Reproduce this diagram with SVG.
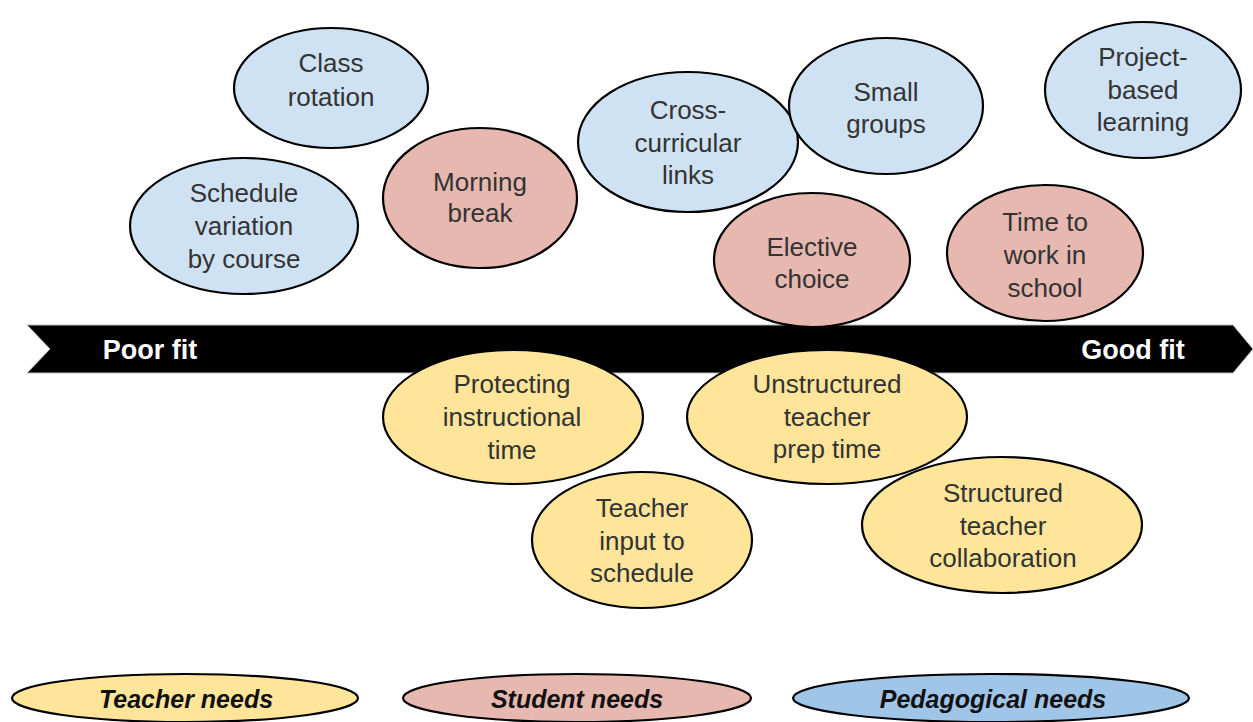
<svg xmlns="http://www.w3.org/2000/svg" width="1253" height="722" viewBox="0 0 1253 722">
<style>
  .n ellipse { stroke: #000; stroke-width: 2.2; }
  .blue ellipse { fill: #cfe2f3; }
  .red ellipse { fill: #e6b8af; }
  .yel ellipse { fill: #ffe599; }
  .leg ellipse { stroke: #000; stroke-width: 2.2; }
  text { font-family: "Liberation Sans", Arial, sans-serif; text-anchor: middle; }
  .t { font-size: 26px; fill: #333; }
  .lt { font-size: 25px; font-weight: bold; font-style: italic; fill: #111; }
  .bt { font-size: 27px; font-weight: bold; fill: #fff; }
</style>
<rect width="1253" height="722" fill="#fff"/>
<g id="axis">
  <polygon points="27,325 1233,325 1253,349 1233,373 27,373 50,349" fill="#000" stroke="#bbb" stroke-width="1"/>
  <text class="bt" x="150" y="359">Poor fit</text>
  <text class="bt" x="1133" y="359">Good fit</text>
</g>
<g id="class-rotation" class="n blue">
  <ellipse cx="331" cy="88" rx="97" ry="60"/>
  <text class="t" x="331"><tspan x="331" y="72">Class</tspan><tspan x="331" y="106">rotation</tspan></text>
</g>
<g id="schedule-variation" class="n blue">
  <ellipse cx="244" cy="226" rx="114" ry="68"/>
  <text class="t"><tspan x="244" y="202">Schedule</tspan><tspan x="244" y="235">variation</tspan><tspan x="244" y="268">by course</tspan></text>
</g>
<g id="morning-break" class="n red">
  <ellipse cx="480" cy="198" rx="97" ry="70"/>
  <text class="t"><tspan x="480" y="191">Morning</tspan><tspan x="480" y="222">break</tspan></text>
</g>
<g id="cross-curricular" class="n blue">
  <ellipse cx="688" cy="142" rx="110" ry="70"/>
  <text class="t"><tspan x="688" y="119">Cross-</tspan><tspan x="688" y="152">curricular</tspan><tspan x="688" y="184">links</tspan></text>
</g>
<g id="small-groups" class="n blue">
  <ellipse cx="886" cy="106" rx="97" ry="68"/>
  <text class="t"><tspan x="886" y="101">Small</tspan><tspan x="886" y="133">groups</tspan></text>
</g>
<g id="project-based" class="n blue">
  <ellipse cx="1143" cy="90" rx="98" ry="68"/>
  <text class="t"><tspan x="1143" y="66">Project-</tspan><tspan x="1143" y="99">based</tspan><tspan x="1143" y="131">learning</tspan></text>
</g>
<g id="elective-choice" class="n red">
  <ellipse cx="812" cy="260" rx="98" ry="67"/>
  <text class="t"><tspan x="812" y="256">Elective</tspan><tspan x="812" y="288">choice</tspan></text>
</g>
<g id="time-to-work" class="n red">
  <ellipse cx="1045" cy="253" rx="98" ry="68"/>
  <text class="t"><tspan x="1045" y="231">Time to</tspan><tspan x="1045" y="264">work in</tspan><tspan x="1045" y="297">school</tspan></text>
</g>
<g id="protecting-time" class="n yel">
  <ellipse cx="513" cy="417" rx="130" ry="67"/>
  <text class="t"><tspan x="512" y="393">Protecting</tspan><tspan x="512" y="426">instructional</tspan><tspan x="512" y="459">time</tspan></text>
</g>
<g id="teacher-input" class="n yel">
  <ellipse cx="642" cy="540" rx="110" ry="68"/>
  <text class="t"><tspan x="642" y="517">Teacher</tspan><tspan x="642" y="550">input to</tspan><tspan x="642" y="582">schedule</tspan></text>
</g>
<g id="unstructured-prep" class="n yel">
  <ellipse cx="827" cy="417" rx="140" ry="67"/>
  <text class="t"><tspan x="827" y="393">Unstructured</tspan><tspan x="827" y="426">teacher</tspan><tspan x="827" y="458">prep time</tspan></text>
</g>
<g id="structured-collab" class="n yel">
  <ellipse cx="1002" cy="525" rx="140" ry="68"/>
  <text class="t"><tspan x="1003" y="502">Structured</tspan><tspan x="1003" y="535">teacher</tspan><tspan x="1003" y="567">collaboration</tspan></text>
</g>
<g id="connectors"></g>
<g id="legend-teacher" class="leg">
  <ellipse cx="185" cy="698" rx="173" ry="24" fill="#ffe599"/>
  <text class="lt" x="186" y="708">Teacher needs</text>
</g>
<g id="legend-student" class="leg">
  <ellipse cx="577" cy="698" rx="174" ry="24" fill="#e6b8af"/>
  <text class="lt" x="577" y="708">Student needs</text>
</g>
<g id="legend-pedagogical" class="leg">
  <ellipse cx="991" cy="698" rx="198" ry="24" fill="#9fc5e8"/>
  <text class="lt" x="993" y="708">Pedagogical needs</text>
</g>
</svg>
